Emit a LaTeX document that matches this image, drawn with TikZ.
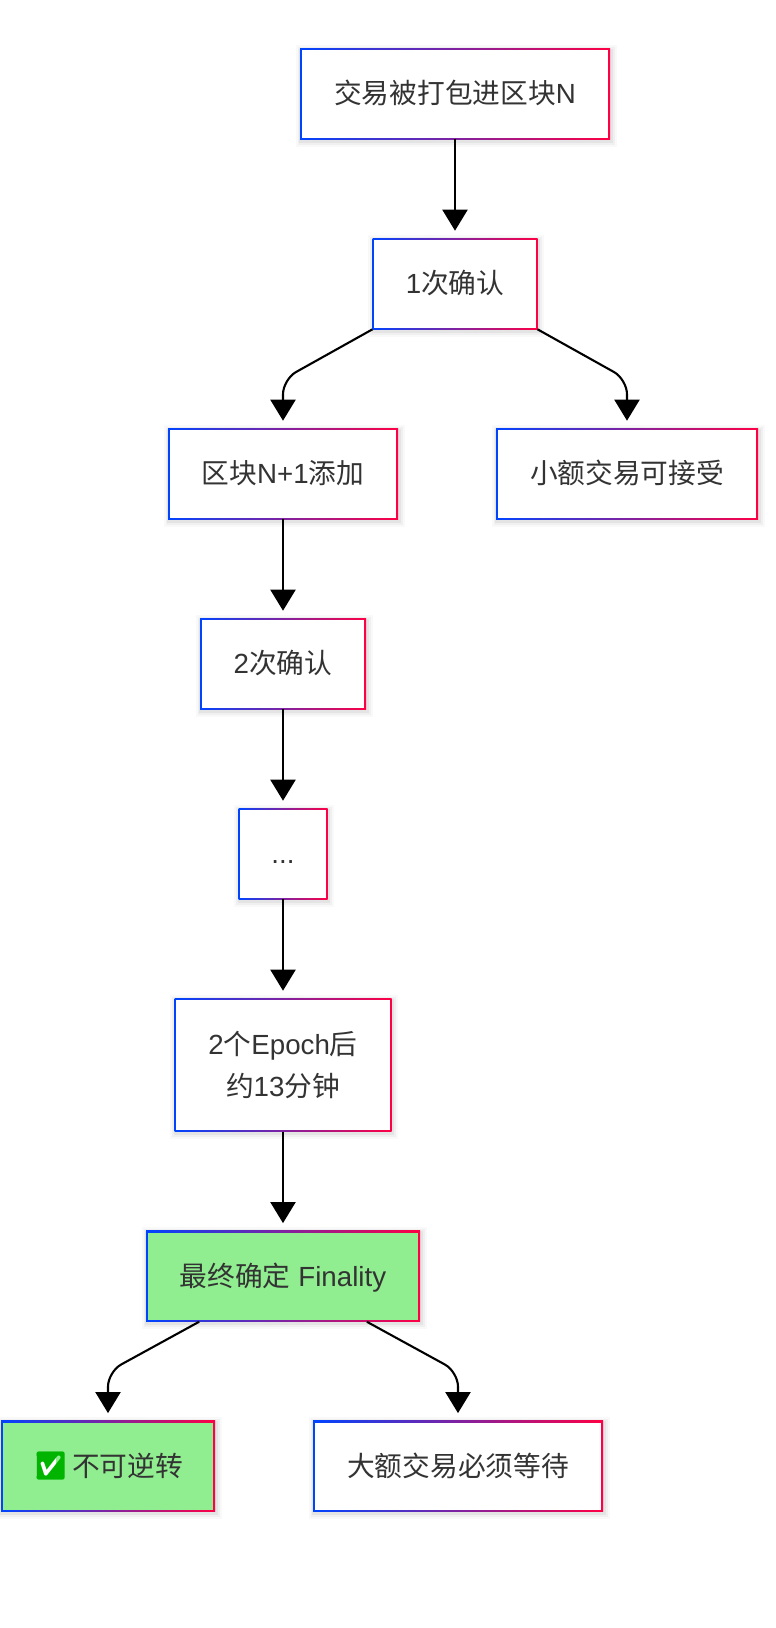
\documentclass[tikz,border=0pt]{standalone}
\usepackage{fontspec}
\setmainfont{Liberation Sans}
\newfontfamily\cjk{Noto Sans CJK SC}
\newfontfamily\emojifont{Noto Emoji}
\usetikzlibrary{positioning,arrows.meta,shadows}
\definecolor{boxblue}{HTML}{0044FF}
\definecolor{boxred}{HTML}{FF0044}
\definecolor{boxgreen}{HTML}{90EE90}
\definecolor{labelgray}{HTML}{333333}
\definecolor{okgreen}{HTML}{00B400}
\newcommand{\zh}[1]{{\cjk #1}}
\newcommand{\okmark}{\raisebox{1pt}{\makebox[0pt][l]{\hspace{3pt}\textcolor{white}{\rule[-1pt]{20pt}{20pt}}}{\emojifont\textcolor{okgreen}{✅}}}}
\tikzset{
	softshadow/.style={
		drop shadow={shadow xshift=1pt,shadow yshift=-2pt,fill=none,draw=black,opacity=.025,line width=11pt},
		drop shadow={shadow xshift=1pt,shadow yshift=-2pt,fill=none,draw=black,opacity=.035,line width=7pt},
		drop shadow={shadow xshift=1pt,shadow yshift=-2pt,fill=none,draw=black,opacity=.05,line width=3.5pt}},
	box/.style={
		softshadow, left color=boxblue, right color=boxred,
		minimum height=91pt, inner sep=0pt, outer sep=0pt,
		text=labelgray, text height=28pt, text depth=8pt,
		font=\fontsize{27.7}{42}\selectfont,
		path picture={\fill[#1]
			([shift={(1.8pt,-1.8pt)}]path picture bounding box.north west) rectangle
			([shift={(-1.8pt,1.8pt)}]path picture bounding box.south east);}},
	box/.default=white,
	link/.style={line width=2.1pt, -{Triangle[width=25pt,length=21pt]}, shorten >=7.6pt},
	bendlink/.style={link, rounded corners=15pt}
}

\begin{document}
\begin{tikzpicture}[x=1pt, y=1pt, node distance=99pt]
	\useasboundingbox (0,0) rectangle (776,-1628);

	\node[box, minimum width=310pt] at (455,-93.8) (tx) {\zh{交易被打包进区块}N};
	\node[box, minimum width=165pt, below=of tx] (conf1) {1\zh{次确认}};
	\node[box, minimum width=230pt, below=of conf1, xshift=-172pt] (blockn) {\zh{区块}N+1\zh{添加}};
	\node[box, minimum width=262pt, below=of conf1, xshift=172pt] (small) {\zh{小额交易可接受}};
	\node[box, minimum width=166pt, below=of blockn] (conf2) {2\zh{次确认}};
	\node[box, minimum width=89pt, below=of conf2] (dots) {...};
	\node[box, minimum width=217pt, minimum height=133.4pt, below=of dots, align=center, text height=, text depth=] (epoch) {2\zh{个}Epoch\zh{后}\\\zh{约}13\zh{分钟}};
	\node[box=boxgreen, minimum width=274pt, below=of epoch] (final) {\zh{最终确定} Finality};
	\node[box=boxgreen, minimum width=214pt, below=of final, xshift=-175pt] (done) {\okmark\hspace{4pt}\zh{不可逆转}\hspace{2pt}};
	\node[box, minimum width=290pt, below=of final, xshift=175pt] (large) {\zh{大额交易必须等待}};

	\draw[link] (tx) -- (conf1);

	\draw[bendlink] (conf1.south west) -- ([yshift=49pt]blockn.north) -- (blockn.north);
	\draw[bendlink] (conf1.south east) -- ([yshift=49pt]small.north) -- (small.north);

	\draw[link] (blockn) -- (conf2);
	\draw[link] (conf2) -- (dots);
	\draw[link] (dots) -- (epoch);
	\draw[link] (epoch) -- (final);

	\draw[bendlink] ([xshift=-83.8pt]final.south) -- ([yshift=49pt]done.north) -- (done.north);
	\draw[bendlink] ([xshift=83.8pt]final.south) -- ([yshift=49pt]large.north) -- (large.north);
\end{tikzpicture}
\end{document}
